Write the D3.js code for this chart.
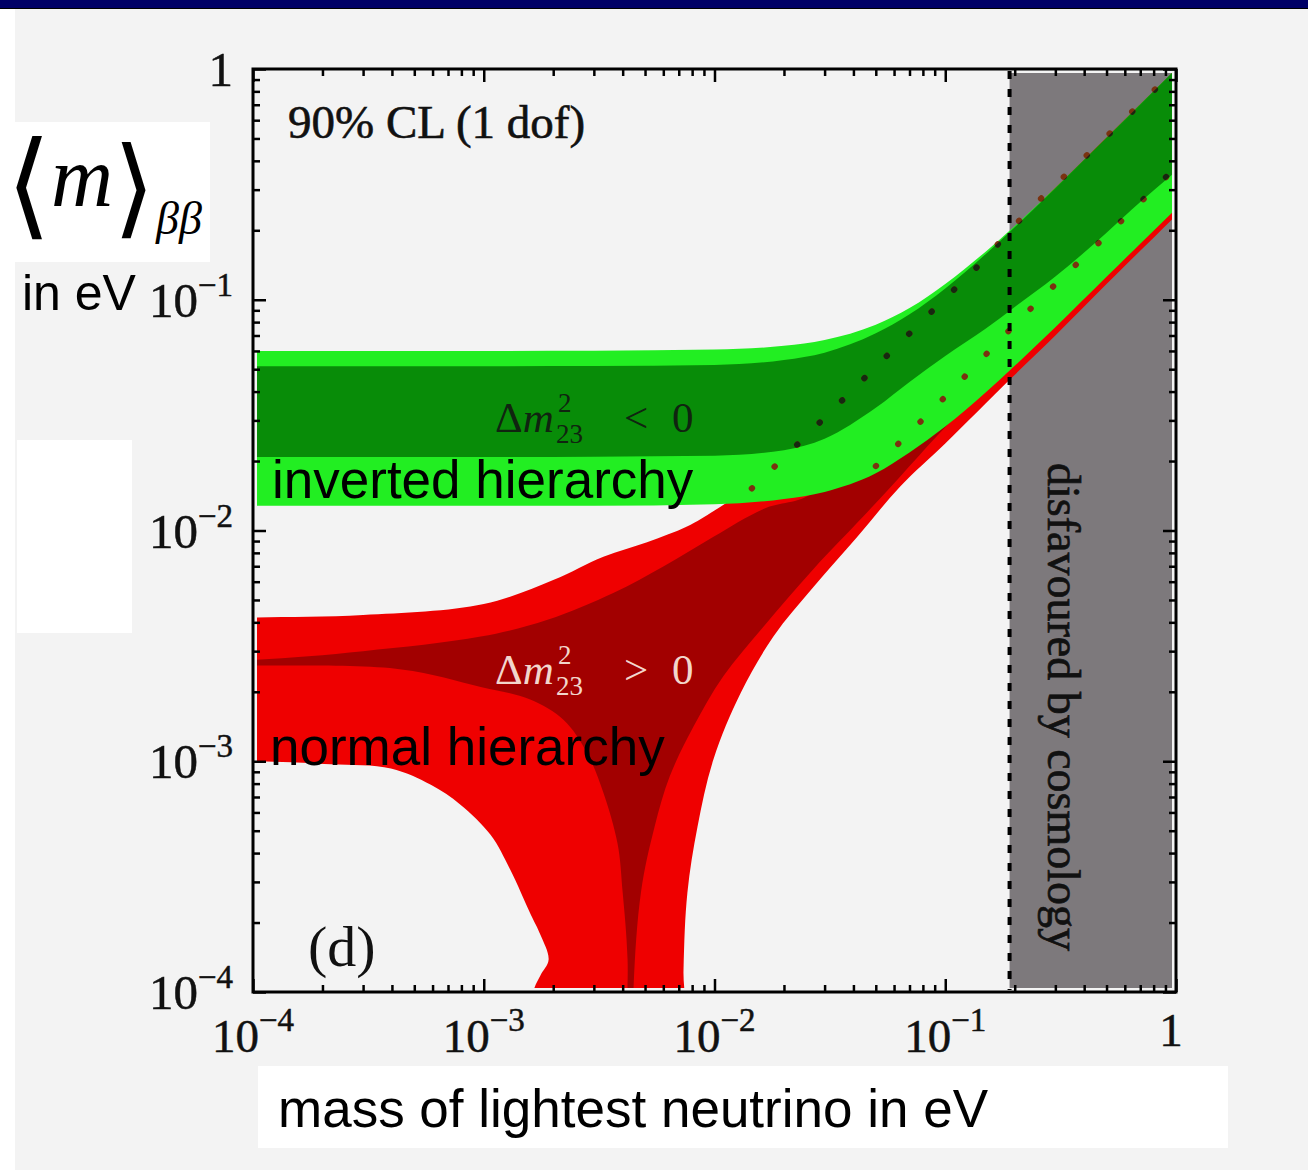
<!DOCTYPE html>
<html><head><meta charset="utf-8">
<script src="https://cdn.jsdelivr.net/npm/d3@7"></script>
<style>
html,body{margin:0;padding:0;background:#f3f3f3;}
svg{display:block;}
</style></head><body>
<svg id="c" width="1308" height="1170"></svg>
<script>
// ---------- data ----------
const massGrid      = [1e-4, 1e-3, 3e-3, 0.01, 0.02, 0.03, 0.05, 0.07, 0.1, 0.15, 0.2, 0.3, 0.5, 0.7, 1];
const ihOuterUpper  = [0.060, 0.060, 0.0601, 0.0608, 0.0632, 0.067, 0.078, 0.092, 0.117, 0.162, 0.209, 0.306, 0.504, 0.703, 1.0];
const ihInnerUpper  = [0.0515, 0.0515, 0.0516, 0.0522, 0.0548, 0.059, 0.0715, 0.0865, 0.112, 0.158, 0.206, 0.304, 0.503, 0.702, 1.0];
const ihInnerLower  = [0.0208, 0.0208, 0.0209, 0.0211, 0.0223, 0.025, 0.034, 0.044, 0.057, 0.075, 0.093, 0.126, 0.195, 0.265, 0.36];
const ihOuterLower  = [0.0128, 0.0128, 0.0128, 0.0130, 0.0137, 0.0147, 0.0177, 0.0218, 0.0282, 0.0397, 0.0517, 0.076, 0.1257, 0.175, 0.248];

// normal hierarchy, outer (90% CL) region boundary, in order
const nhOuterM = [5e-5, 1e-4, 3e-4, 1e-3, 2e-3, 3.3e-3, 5.1e-3, 7.6e-3, 0.01, 0.015, 0.02, 0.03, 0.05, 0.1, 0.2, 0.5, 1, 1.5,
                  1.5, 1, 0.5, 0.3, 0.191, 0.1, 0.0638, 0.0416, 0.0269, 0.018, 0.013, 0.0099, 0.00844, 0.00763, 0.00734, 0.0073,
                  0.0016, 0.00164, 0.00176, 0.00191, 0.00176, 0.0016, 0.0013, 0.00107, 0.00079, 0.00059, 0.000396, 0.000217, 1e-4, 5e-5];
const nhOuterV = [0.0042, 0.0042, 0.0043, 0.0048, 0.0061, 0.0077, 0.0089, 0.0104, 0.0122, 0.0162, 0.0212, 0.031, 0.051, 0.102, 0.205, 0.505, 1.0, 1.5,
                  0.35, 0.232, 0.117, 0.07, 0.0452, 0.0238, 0.0155, 0.0094, 0.0057, 0.00347, 0.00198, 0.00102, 0.00052, 0.000269, 0.000124, 0.00003,
                  0.00003, 0.0001, 0.000118, 0.000138, 0.000177, 0.000216, 0.00034, 0.00048, 0.00065, 0.00079, 0.00093, 0.00097, 0.001, 0.001];
// normal hierarchy, inner (best fit) region boundary, in order
const nhInnerM = [5e-5, 1e-4, 3e-4, 9.7e-4, 1.89e-3, 3.66e-3, 6e-3, 9.9e-3, 0.0163, 0.0268, 0.05, 0.1, 0.3, 1, 1.5,
                  1.5, 1, 0.3, 0.1, 0.062, 0.0441, 0.0268, 0.0163, 0.0109, 0.0081, 0.0064, 0.0055, 0.0048, 0.00445, 0.0044,
                  0.0042, 0.0042, 0.004, 0.0038, 0.0033, 0.0028, 0.00222, 0.00159, 0.00097, 0.00044, 1e-4, 5e-5];
const nhInnerV = [0.00273, 0.00275, 0.003, 0.00347, 0.0041, 0.00537, 0.00698, 0.0094, 0.0124, 0.0146, 0.035, 0.085, 0.27, 0.9, 1.3,
                  0.42, 0.28, 0.084, 0.028, 0.0166, 0.0115, 0.0068, 0.00383, 0.00233, 0.00141, 0.00086, 0.00052, 0.00027, 0.0001, 0.00003,
                  0.00003, 0.000138, 0.00027, 0.00044, 0.00073, 0.00109, 0.00151, 0.00185, 0.0021, 0.0025, 0.0026, 0.0026];

// dotted contour lines hidden under the green band
const dotAM = [0.0145, 0.02, 0.03, 0.05, 0.1, 0.142, 0.2, 0.5, 1];
const dotAV = [0.0152, 0.0207, 0.0308, 0.0512, 0.1015, 0.1435, 0.21, 0.51, 1.0];
const dotBM = [0.05, 0.1, 0.197, 0.25, 0.5, 1];
const dotBV = [0.019, 0.038, 0.0767, 0.0975, 0.19, 0.375];

const cosmologyLimit = 0.19;
const majorTicks = [1e-4, 1e-3, 1e-2, 1e-1, 1];
const tickExponents = ["\u22124", "\u22123", "\u22122", "\u22121", ""];
const minorTicks = [];
[1e-4, 1e-3, 1e-2, 1e-1].forEach(d => { for (let k = 2; k <= 9; k++) minorTicks.push(+(d * k).toPrecision(3)); });

// ---------- layout ----------
const L = 253, R = 1176, T = 69, B = 992, INSET = 4;
const svg = d3.select("#c");
const x = d3.scaleLog().domain([1e-4, 1]).range([L, R]);
const y = d3.scaleLog().domain([1e-4, 1]).range([B, T]);

// page decoration
svg.append("rect").attr("x", 0).attr("y", 0).attr("width", 1308).attr("height", 1170).attr("fill", "#f3f3f3");
svg.append("rect").attr("x", 0).attr("y", 0).attr("width", 15).attr("height", 1170).attr("fill", "#ffffff");
svg.append("rect").attr("x", 0).attr("y", 0).attr("width", 1308).attr("height", 8).attr("fill", "#000066");
svg.append("line").attr("x1", 0).attr("x2", 1308).attr("y1", 8.5).attr("y2", 8.5).attr("stroke", "#000").attr("stroke-width", 1);

const defs = svg.append("defs");
defs.append("clipPath").attr("id", "plotclip").append("rect")
  .attr("x", L + INSET).attr("y", T + INSET).attr("width", R - L - 2 * INSET).attr("height", B - T - 2 * INSET);

const g = svg.append("g").attr("clip-path", "url(#plotclip)");

// cosmology band
g.append("rect").attr("x", x(cosmologyLimit)).attr("y", T).attr("width", R - x(cosmologyLimit)).attr("height", B - T)
  .attr("fill", "#7d797c");

const poly = d3.line().x(d => x(d[0])).y(d => y(d[1])).curve(d3.curveCatmullRomClosed.alpha(0.5));
g.append("path").datum(d3.zip(nhOuterM, nhOuterV)).attr("d", poly).attr("fill", "#ef0000");
g.append("path").datum(d3.zip(nhInnerM, nhInnerV)).attr("d", poly).attr("fill", "#a20000");

const band = (up, lo) => d3.area().x((d, i) => x(massGrid[i])).y0((d, i) => y(lo[i])).y1((d, i) => y(up[i])).curve(d3.curveMonotoneX);
g.append("path").datum(massGrid).attr("d", band(ihOuterUpper, ihOuterLower)).attr("fill", "#22ee22");
const innerD = band(ihInnerUpper, ihInnerLower)(massGrid);
g.append("path").attr("d", innerD).attr("fill", "#088c08");
defs.append("clipPath").attr("id", "innerclip").append("path").attr("d", innerD);

const dl = d3.line().x(d => x(d[0])).y(d => y(d[1])).curve(d3.curveMonotoneX);
[[dotAM, dotAV], [dotBM, dotBV]].forEach(([m, v]) => {
  g.append("path").datum(d3.zip(m, v)).attr("d", dl).attr("fill", "none")
    .attr("stroke", "#7a3210").attr("stroke-width", 6).attr("stroke-linecap", "round").attr("stroke-dasharray", "0.5,31");
  g.append("g").attr("clip-path", "url(#innerclip)").append("path").datum(d3.zip(m, v)).attr("d", dl).attr("fill", "none")
    .attr("stroke", "#162810").attr("stroke-width", 6).attr("stroke-linecap", "round").attr("stroke-dasharray", "0.5,31");
});

// dashed cosmology limit
svg.append("line").attr("x1", x(cosmologyLimit)).attr("x2", x(cosmologyLimit)).attr("y1", T + 2).attr("y2", B - 2)
  .attr("stroke", "#000").attr("stroke-width", 4).attr("stroke-dasharray", "8,10");

// ---------- axes (ticks inward on all sides) ----------
function ticks(axisFn, vals, size, tr) {
  const a = svg.append("g").attr("transform", tr).call(axisFn.tickValues(vals).tickSize(-size).tickFormat(""));
  a.select(".domain").remove();
  a.selectAll(".tick line").attr("stroke", "#000").attr("stroke-width", 2.5);
}
ticks(d3.axisBottom(x), majorTicks, 13, `translate(0,${B})`);
ticks(d3.axisBottom(x), minorTicks, 7, `translate(0,${B})`);
ticks(d3.axisTop(x), majorTicks, 13, `translate(0,${T})`);
ticks(d3.axisTop(x), minorTicks, 7, `translate(0,${T})`);
ticks(d3.axisLeft(y), majorTicks, 13, `translate(${L},0)`);
ticks(d3.axisLeft(y), minorTicks, 7, `translate(${L},0)`);
ticks(d3.axisRight(y), majorTicks, 13, `translate(${R},0)`);
ticks(d3.axisRight(y), minorTicks, 7, `translate(${R},0)`);

svg.append("rect").attr("x", L).attr("y", T).attr("width", R - L).attr("height", B - T)
  .attr("fill", "none").attr("stroke", "#000").attr("stroke-width", 3);

const serif = "'Liberation Serif','Times New Roman',serif";
const sans = "'Liberation Sans',Arial,sans-serif";

// tick labels
majorTicks.forEach((v, i) => {
  const ty = svg.append("text").attr("x", 233).attr("y", y(v) + 17).attr("text-anchor", "end")
    .attr("font-family", serif).attr("font-size", 49).attr("fill", "#111").attr("stroke", "#111").attr("stroke-width", 0.5);
  const tx = svg.append("text").attr("x", x(v) - (tickExponents[i] === "" ? 5 : 0)).attr("y", tickExponents[i] === "" ? 1046 : 1052)
    .attr("text-anchor", "middle").attr("font-family", serif).attr("font-size", 47).attr("fill", "#111").attr("stroke", "#111").attr("stroke-width", 0.5);
  [ty, tx].forEach(t => {
    if (tickExponents[i] === "") { t.text("1"); }
    else {
      t.append("tspan").text("10");
      t.append("tspan").attr("font-size", 33).attr("dy", -21).text(tickExponents[i]);
    }
  });
});

// in-plot labels
svg.append("text").attr("x", 288).attr("y", 138).attr("font-family", serif).attr("font-size", 47).attr("fill", "#111")
  .attr("stroke", "#111").attr("stroke-width", 0.6).text("90% CL (1 dof)");
svg.append("text").attr("x", 308).attr("y", 966).attr("font-family", serif).attr("font-size", 58).attr("fill", "#111").text("(d)");
svg.append("text").attr("transform", "translate(1048,707) rotate(90)").attr("text-anchor", "middle")
  .attr("font-family", serif).attr("font-size", 46).attr("fill", "#111").attr("stroke", "#111").attr("stroke-width", 0.7)
  .text("disfavoured by cosmology");

function dm(base, sign, color) {
  const t = svg.append("text").attr("x", 495).attr("y", base).attr("font-family", serif).attr("font-size", 43).attr("fill", color);
  t.append("tspan").text("\u0394");
  t.append("tspan").attr("font-style", "italic").text("m");
  svg.append("text").attr("x", 558).attr("y", base - 20).attr("font-family", serif).attr("font-size", 27).attr("fill", color).text("2");
  svg.append("text").attr("x", 556).attr("y", base + 11).attr("font-family", serif).attr("font-size", 27).attr("fill", color).text("23");
  svg.append("text").attr("x", 624).attr("y", base).attr("font-family", serif).attr("font-size", 43).attr("fill", color).text(sign);
  svg.append("text").attr("x", 672).attr("y", base).attr("font-family", serif).attr("font-size", 43).attr("fill", color).text("0");
}
dm(432, "<", "#102410");
dm(684, ">", "#f2d6cc");

svg.append("text").attr("x", 272).attr("y", 498).attr("font-family", sans).attr("font-size", 53).attr("fill", "#000").text("inverted hierarchy");
svg.append("text").attr("x", 270).attr("y", 765).attr("font-family", sans).attr("font-size", 53).attr("fill", "#000").text("normal hierarchy");

// axis titles
svg.append("rect").attr("x", 15).attr("y", 122).attr("width", 195).attr("height", 140).attr("fill", "#fff");
svg.append("rect").attr("x", 17).attr("y", 440).attr("width", 115).attr("height", 193).attr("fill", "#fff");
const yl = svg.append("text").attr("x", 6).attr("y", 224).attr("fill", "#000");
yl.append("tspan").attr("font-family", "'DejaVu Sans',sans-serif").attr("font-weight", 200).attr("font-size", 116).text("\u27E8");
yl.append("tspan").attr("font-family", serif).attr("font-style", "italic").attr("font-size", 86).attr("dy", -18).text("m");
yl.append("tspan").attr("font-family", "'DejaVu Sans',sans-serif").attr("font-weight", 200).attr("font-size", 108).attr("dy", 18).text("\u27E9");
yl.append("tspan").attr("font-family", serif).attr("font-style", "italic").attr("font-size", 46).attr("dx", 1).attr("dy", 10).text("\u03B2\u03B2");
svg.append("text").attr("x", 22).attr("y", 310).attr("font-family", sans).attr("font-size", 50).attr("fill", "#000").text("in eV");

svg.append("rect").attr("x", 258).attr("y", 1066).attr("width", 970).attr("height", 82).attr("fill", "#fff");
svg.append("text").attr("x", 278).attr("y", 1127).attr("font-family", sans).attr("font-size", 53).attr("fill", "#000").text("mass of lightest neutrino in eV");
</script>
</body></html>
